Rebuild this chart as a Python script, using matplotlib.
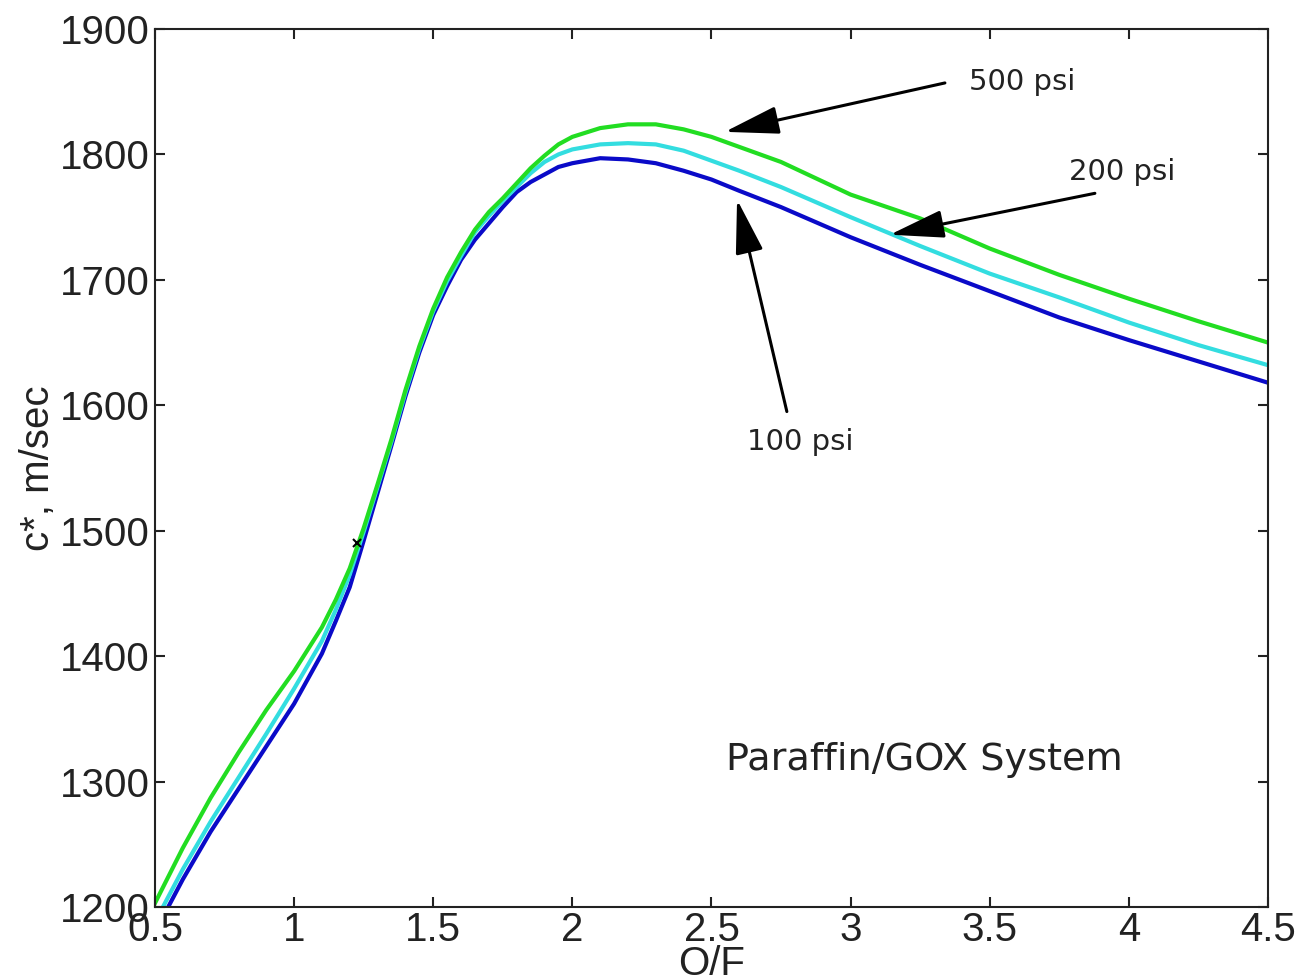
import matplotlib
matplotlib.use("Agg")
import matplotlib.pyplot as plt

# O/F ratio and c* (m/sec)
of_ratio = [0.5, 0.6, 0.7, 0.8, 0.9, 1.0, 1.1, 1.15, 1.2, 1.25, 1.3, 1.35, 1.4, 1.45, 1.5,
            1.55, 1.6, 1.65, 1.7, 1.75, 1.8, 1.85, 1.9, 1.95, 2.0, 2.1, 2.2, 2.3, 2.4, 2.5,
            2.6, 2.75, 3.0, 3.25, 3.5, 3.75, 4.0, 4.25, 4.5]
cstar_100 = [1180, 1222, 1260, 1294, 1328, 1362, 1402, 1428, 1455, 1492, 1530, 1568, 1607, 1642, 1672,
             1695, 1716, 1732, 1745, 1758, 1770, 1778, 1784, 1790, 1793, 1797, 1796, 1793, 1787, 1780,
             1771, 1758, 1734, 1712, 1691, 1670, 1652, 1635, 1618]
cstar_200 = [1188, 1230, 1268, 1303, 1338, 1374, 1412, 1437, 1465, 1499, 1535, 1571, 1610, 1645, 1675,
             1699, 1719, 1738, 1751, 1763, 1774, 1785, 1794, 1800, 1804, 1808, 1809, 1808, 1803, 1795,
             1787, 1774, 1750, 1727, 1705, 1686, 1666, 1648, 1632]
cstar_500 = [1203, 1247, 1287, 1323, 1357, 1388, 1423, 1445, 1470, 1502, 1537, 1573, 1612, 1647, 1677,
             1702, 1722, 1740, 1754, 1765, 1777, 1789, 1799, 1808, 1814, 1821, 1824, 1824, 1820, 1814,
             1806, 1794, 1768, 1749, 1725, 1704, 1685, 1667, 1650]

labels = ['100 psi', '200 psi', '500 psi']
label_pos = [(2.818, 1571), (3.975, 1786), (3.616, 1858)]
arrow_tail = [(2.771, 1595), (3.878, 1769), (3.339, 1857)]
arrow_tip = [(2.592, 1764), (3.141, 1736), (2.548, 1818)]

fig = plt.figure(figsize=(13.01, 9.8), dpi=100)
ax = fig.add_axes([0.1191, 0.0745, 0.8555, 0.8959])

ax.plot(of_ratio, cstar_100, color='#0a0ac8', lw=3)
ax.plot(of_ratio, cstar_200, color='#33dde0', lw=3)
ax.plot(of_ratio, cstar_500, color='#22dd22', lw=3)
# small stray marker on the rising part
ax.plot([1.226], [1490], marker='x', color='black', ms=6, mew=1.5)

for lab, p, tail, tip in zip(labels, label_pos, arrow_tail, arrow_tip):
    ax.annotate('', xy=tip, xytext=tail,
                arrowprops=dict(arrowstyle='-|>,head_length=0.7,head_width=0.18',
                                mutation_scale=48, color='black', lw=2.2,
                                shrinkA=0, shrinkB=0))
    ax.text(p[0], p[1], lab, fontsize=21, family='DejaVu Sans',
            ha='center', va='center', color='#222222')

ax.text(3.267, 1317, 'Paraffin/GOX System', fontsize=27.5, family='DejaVu Sans',
        ha='center', va='center', color='#222222')

ax.set_xlim(0.5, 4.5)
ax.set_ylim(1200, 1900)
ax.set_xticks([0.5, 1, 1.5, 2, 2.5, 3, 3.5, 4, 4.5])
ax.set_xticklabels(['0.5', '1', '1.5', '2', '2.5', '3', '3.5', '4', '4.5'])
ax.set_yticks(range(1200, 1901, 100))
ax.tick_params(direction='in', length=7, width=1.5, top=True, right=True,
               labelsize=29, colors='#222222')
ax.tick_params(axis='y', pad=4)
ax.tick_params(axis='x', pad=3)
for lbl in ax.get_xticklabels() + ax.get_yticklabels():
    lbl.set_family('Liberation Sans')
for s in ax.spines.values():
    s.set_linewidth(1.5)
    s.set_color('#222222')

ax.set_xlabel('O/F', fontsize=29, family='Liberation Sans', labelpad=-3, color='#222222')
ax.set_ylabel('c*, m/sec', fontsize=29, family='Liberation Sans', labelpad=2, color='#222222')

fig.savefig('out.png', dpi=100)
